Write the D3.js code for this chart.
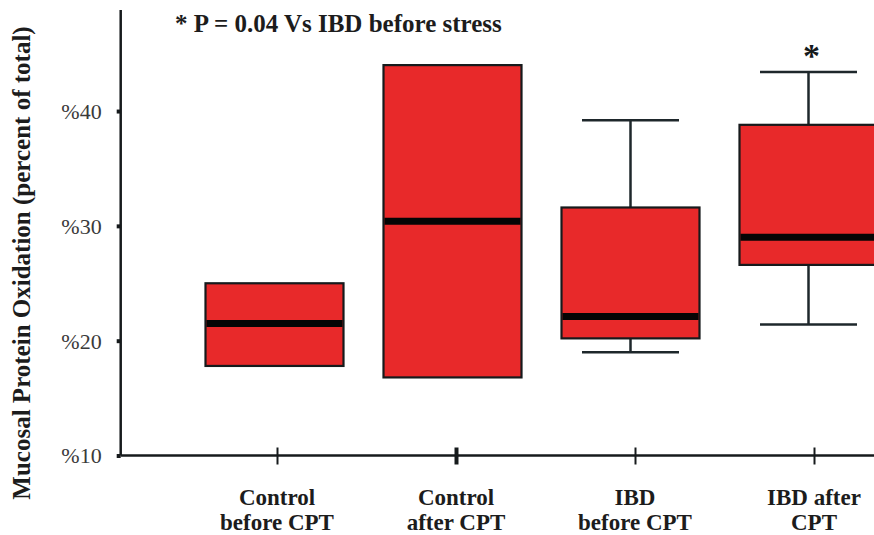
<!DOCTYPE html>
<html>
<head>
<meta charset="utf-8">
<script src="https://cdn.jsdelivr.net/npm/d3@7"></script>
<style>
  html, body { margin: 0; padding: 0; background: #fff; }
  svg { display: block; }
  svg text { font-family: "Liberation Serif", "DejaVu Serif", serif; }
</style>
</head>
<body>
<svg id="chart" width="874" height="535"></svg>
<script>
// Groups and their label lines
const categories = ["Control before CPT", "Control after CPT", "IBD before CPT", "IBD after CPT"];
const labelLines = [["Control", "before CPT"], ["Control", "after CPT"], ["IBD", "before CPT"], ["IBD after", "CPT"]];

// Box statistics (percent of total)
const q1Values     = [17.8, 16.8, 20.2, 26.6];
const medianValues = [21.5, 30.4, 22.1, 29.0];
const q3Values     = [25.0, 44.0, 31.6, 38.8];
const whiskerLow   = [null, null, 19.0, 21.4];
const whiskerHigh  = [null, null, 39.2, 43.4];
const significant  = [false, false, false, true];

const yTicks = [10, 20, 30, 40];
const yTitle = "Mucosal Protein Oxidation (percent of total)";
const note = "* P = 0.04 Vs IBD before stress";

const svg = d3.select("#chart");
const red = "#e8292a";
const ink = "#161a1c";

const y = d3.scaleLinear().domain([10, 48.8]).range([455.5, 10]);
const xBox = d3.scalePoint().domain(categories).range([274.5, 808.5]);
const xAxisPos = d3.scalePoint().domain(categories).range([277, 814]);
const boxW = 138, capW = 97;

const data = categories.map((c, i) => ({
  cat: c, q1: q1Values[i], med: medianValues[i], q3: q3Values[i],
  lo: whiskerLow[i], hi: whiskerHigh[i], sig: significant[i], lines: labelLines[i]
}));

const plot = svg.append("g");

// whiskers
const wg = plot.selectAll("g.whisk").data(data.filter(d => d.lo != null)).join("g").attr("class", "whisk")
  .attr("stroke", "#1e272b").attr("stroke-width", 2.5).attr("fill", "none");
wg.append("line").attr("x1", d => xBox(d.cat)).attr("x2", d => xBox(d.cat))
  .attr("y1", d => y(d.hi)).attr("y2", d => y(d.lo));
wg.append("line").attr("x1", d => xBox(d.cat) - capW / 2).attr("x2", d => xBox(d.cat) + capW / 2)
  .attr("y1", d => y(d.hi)).attr("y2", d => y(d.hi));
wg.append("line").attr("x1", d => xBox(d.cat) - capW / 2).attr("x2", d => xBox(d.cat) + capW / 2)
  .attr("y1", d => y(d.lo)).attr("y2", d => y(d.lo));

// boxes
plot.selectAll("rect.box").data(data).join("rect").attr("class", "box")
  .attr("x", d => xBox(d.cat) - boxW / 2)
  .attr("width", boxW)
  .attr("y", d => y(d.q3))
  .attr("height", d => y(d.q1) - y(d.q3))
  .attr("fill", red).attr("stroke", ink).attr("stroke-width", 2.2);

// medians
plot.selectAll("line.med").data(data).join("line").attr("class", "med")
  .attr("x1", d => xBox(d.cat) - boxW / 2 + 1).attr("x2", d => xBox(d.cat) + boxW / 2 - 1)
  .attr("y1", d => y(d.med)).attr("y2", d => y(d.med))
  .attr("stroke", "#050505").attr("stroke-width", 7);

// significance marker
plot.selectAll("text.sig").data(data.filter(d => d.sig)).join("text").attr("class", "sig")
  .attr("x", d => xBox(d.cat) + 3).attr("y", d => y(d.hi) - 5)
  .attr("text-anchor", "middle").attr("font-weight", "bold")
  .attr("font-size", 34).attr("fill", ink).text("*");

// y axis
const yAxis = svg.append("g").attr("transform", "translate(120.7,0)")
  .call(d3.axisLeft(y).tickValues(yTicks).tickSize(4).tickFormat(d => "%" + d));
yAxis.attr("font-family", null);
yAxis.select(".domain").attr("d", `M0,${y.range()[1]}V${y.range()[0]}`).attr("stroke", ink).attr("stroke-width", 2.5);
yAxis.selectAll(".tick line").attr("stroke", ink).attr("stroke-width", 4);
yAxis.selectAll(".tick text").attr("x", -19).attr("dy", "0.34em").attr("font-size", 22).attr("fill", "#3a3a3a");

// x axis
const xAxis = svg.append("g").attr("transform", `translate(0,${y(10)})`)
  .call(d3.axisBottom(xAxisPos).tickSize(0).tickFormat(""));
xAxis.select(".domain").attr("d", "M120.7,0H874").attr("stroke", ink).attr("stroke-width", 2.5);
xAxis.selectAll(".tick line").attr("y1", -8).attr("y2", 9).attr("stroke", ink)
  .attr("stroke-width", (d, i) => i === 1 ? 4 : 2);

// category labels
const lab = svg.append("g").selectAll("text").data(data).join("text")
  .attr("text-anchor", "middle").attr("font-weight", "bold")
  .attr("font-size", 23).attr("fill", "#1c1c1c");
lab.selectAll("tspan").data(d => d.lines.map(l => ({ l, x: xAxisPos(d.cat) }))).join("tspan")
  .attr("x", d => d.x).attr("y", (d, i) => 505 + i * 25).text(d => d.l);

// y title
svg.append("text").attr("transform", "translate(30,263) rotate(-90)")
  .attr("text-anchor", "middle").attr("font-weight", "bold")
  .attr("font-size", 25).attr("fill", "#1c1c1c").text(yTitle);

// annotation
svg.append("text").attr("x", 175).attr("y", 31.5).attr("font-weight", "bold")
  .attr("font-size", 25).attr("fill", "#1c1c1c").text(note);
</script>
</body>
</html>
